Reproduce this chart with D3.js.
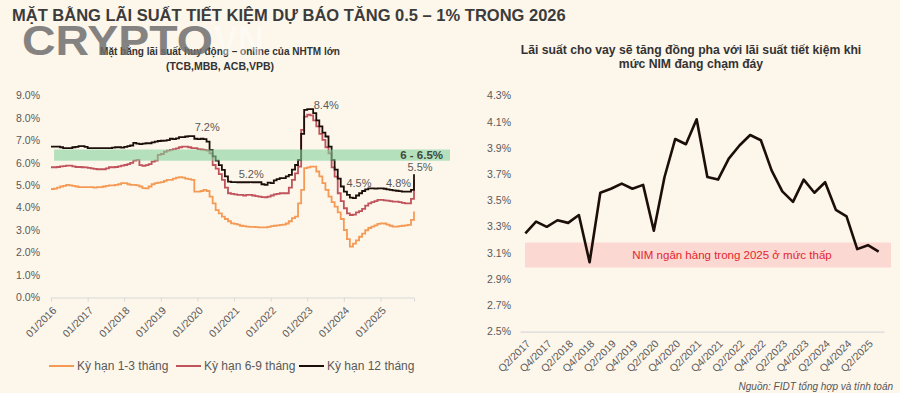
<!DOCTYPE html>
<html>
<head>
<meta charset="utf-8">
<script src="https://cdn.jsdelivr.net/npm/d3@7"></script>
<style>
  body { margin: 0; background: #fdf6eb; }
  svg { display: block; font-family: "Liberation Sans", Arial, sans-serif; }
</style>
</head>
<body>
<div id="chart"></div>
<script>
// ---- left chart data: monthly deposit rates (%), 01/2016 -> 12/2025
var monthStart = "2016-01";
var rate1to3 = [
  4.84, 4.86, 4.90, 4.95, 4.98, 5.02, 5.00, 4.98, 4.95, 4.92, 4.92, 4.92,
  4.92, 4.92, 4.90, 4.92, 4.92, 4.95, 4.98, 5.00, 5.00, 5.02, 5.05, 5.10,
  5.10, 5.05, 5.02, 5.02, 5.00, 4.95, 4.88, 4.87, 4.95, 5.05, 5.10, 5.12,
  5.15, 5.20, 5.25, 5.25, 5.30, 5.35, 5.37, 5.35, 5.30, 5.28, 5.25, 4.72,
  4.72, 4.75, 4.80, 4.75, 4.50, 4.20, 3.90, 3.75, 3.61, 3.50, 3.40, 3.31,
  3.28, 3.25, 3.20, 3.18, 3.16, 3.15, 3.15, 3.14, 3.13, 3.13, 3.13, 3.15,
  3.18, 3.20, 3.22, 3.24, 3.25, 3.30, 3.40, 3.54, 3.61, 4.20, 4.80, 5.77,
  5.80, 5.84, 5.84, 5.62, 5.40, 5.10, 4.80, 4.50, 4.25, 4.05, 3.80, 3.50,
  3.01, 2.60, 2.27, 2.40, 2.55, 2.71, 2.85, 3.00, 3.10, 3.16, 3.22, 3.28,
  3.31, 3.30, 3.25, 3.20, 3.16, 3.16, 3.18, 3.20, 3.22, 3.24, 3.46, 3.83
];
var rate6to9 = [
  5.81, 5.81, 5.82, 5.85, 5.86, 5.88, 5.88, 5.85, 5.82, 5.82, 5.81, 5.80,
  5.78, 5.76, 5.74, 5.72, 5.72, 5.72, 5.76, 5.81, 5.81, 5.82, 5.85, 5.88,
  5.91, 5.95, 6.00, 6.10, 6.14, 5.90, 5.87, 5.90, 5.95, 6.06, 6.10, 6.36,
  6.40, 6.50, 6.55, 6.58, 6.62, 6.65, 6.70, 6.73, 6.73, 6.70, 6.66, 6.66,
  6.62, 6.60, 6.58, 6.55, 6.43, 5.91, 5.75, 5.50, 5.25, 4.90, 4.65, 4.62,
  4.60, 4.58, 4.58, 4.55, 4.58, 4.58, 4.55, 4.52, 4.50, 4.48, 4.47, 4.50,
  4.55, 4.60, 4.62, 4.65, 4.65, 4.65, 4.90, 5.25, 5.54, 5.84, 7.48, 8.07,
  8.15, 8.12, 7.90, 7.63, 7.30, 7.03, 6.70, 6.43, 5.80, 5.39, 4.65, 4.30,
  3.98, 3.75, 3.68, 3.70, 3.80, 3.85, 3.95, 4.10, 4.20, 4.25, 4.30, 4.35,
  4.35, 4.33, 4.32, 4.30, 4.28, 4.28, 4.25, 4.22, 4.20, 4.20, 4.40, 5.25
];
var rate12 = [
  6.73, 6.73, 6.73, 6.70, 6.66, 6.66, 6.66, 6.70, 6.72, 6.75, 6.75, 6.72,
  6.66, 6.66, 6.66, 6.66, 6.66, 6.66, 6.66, 6.66, 6.68, 6.70, 6.70, 6.68,
  6.72, 6.75, 6.78, 6.90, 6.86, 6.84, 6.86, 6.88, 6.88, 6.92, 6.95, 6.98,
  6.99, 7.00, 7.02, 7.08, 7.06, 7.10, 7.15, 7.15, 7.18, 7.20, 7.20, 7.08,
  7.06, 7.08, 7.06, 6.95, 6.58, 6.29, 6.10, 5.90, 5.69, 5.40, 5.17, 5.15,
  5.15, 5.14, 5.14, 5.14, 5.14, 5.15, 5.14, 5.14, 5.14, 5.05, 5.02, 5.12,
  5.10, 5.22, 5.28, 5.32, 5.32, 5.40, 5.47, 5.70, 5.91, 6.14, 7.30, 8.37,
  8.40, 8.40, 8.22, 7.90, 7.63, 7.35, 7.18, 6.73, 6.14, 5.70, 5.30, 4.95,
  4.72, 4.58, 4.45, 4.43, 4.55, 4.65, 4.75, 4.82, 4.87, 4.87, 4.86, 4.87,
  4.87, 4.85, 4.82, 4.80, 4.78, 4.76, 4.74, 4.72, 4.72, 4.72, 4.80, 5.50
];
var seriesNames = ["Kỳ hạn 1-3 tháng", "Kỳ hạn 6-9 tháng", "Kỳ hạn 12 tháng"];
var leftTicks = [0, 1, 2, 3, 4, 5, 6, 7, 8, 9];
var targetBand = [6.1, 6.6];
var targetLabel = "6 - 6.5%";
var peakDates = ["2019-10", "2021-06", "2023-01", "2024-04", "2025-04", "2025-12"];
var peakValues = [7.2, 5.2, 8.4, 4.5, 4.8, 5.5];
var peakLabels = ["7.2%", "5.2%", "8.4%", "4.5%", "4.8%", "5.5%"];

// ---- right chart data: quarterly NIM (%)
var quarters = [
  "Q2/2017", "Q3/2017", "Q4/2017", "Q1/2018", "Q2/2018", "Q3/2018", "Q4/2018",
  "Q1/2019", "Q2/2019", "Q3/2019", "Q4/2019", "Q1/2020", "Q2/2020", "Q3/2020",
  "Q4/2020", "Q1/2021", "Q2/2021", "Q3/2021", "Q4/2021", "Q1/2022", "Q2/2022",
  "Q3/2022", "Q4/2022", "Q1/2023", "Q2/2023", "Q3/2023", "Q4/2023", "Q1/2024",
  "Q2/2024", "Q3/2024", "Q4/2024", "Q1/2025", "Q2/2025", "Q3/2025"
];
var nim = [
  3.25, 3.34, 3.30, 3.35, 3.33, 3.39, 3.03, 3.56, 3.59, 3.63, 3.59, 3.62,
  3.27, 3.68, 3.97, 3.93, 4.12, 3.68, 3.66, 3.82, 3.92, 4.00, 3.96, 3.73,
  3.57, 3.49, 3.66, 3.56, 3.64, 3.43, 3.38, 3.13, 3.16, 3.11
];
var rightTicks = [2.5, 2.7, 2.9, 3.1, 3.3, 3.5, 3.7, 3.9, 4.1, 4.3];
var nimBand = [2.99, 3.18];
var nimLabel = "NIM ngân hàng trong 2025 ở mức thấp";

var W = 900, H = 393;
var textGray = "#595959";
var colors = ["#f59a55", "#c0535b", "#1c0f0a"];

var svg = d3.select("#chart").append("svg")
  .attr("width", W).attr("height", H);

svg.append("rect").attr("width", W).attr("height", H).attr("fill", "#fdf6eb");

// main title
svg.append("text")
  .attr("x", 12).attr("y", 21)
  .attr("fill", "#3b3b3b")
  .style("font-size", "16.5px").style("font-weight", "bold")
  .text("MẶT BẰNG LÃI SUẤT TIẾT KIỆM DỰ BÁO TĂNG 0.5 – 1% TRONG 2026");

// chart subtitles
var sub = svg.append("g")
  .attr("fill", "#333")
  .style("font-weight", "bold")
  .attr("text-anchor", "middle");
sub.append("text").attr("x", 220).attr("y", 55)
  .style("font-size", "10px")
  .text("Mặt bằng lãi suất huy động – online của NHTM lớn");
sub.append("text").attr("x", 220).attr("y", 70)
  .style("font-size", "10.5px")
  .text("(TCB,MBB, ACB,VPB)");
sub.append("text").attr("x", 691).attr("y", 54)
  .style("font-size", "12.2px")
  .text("Lãi suất cho vay sẽ tăng đồng pha với lãi suất tiết kiệm khi");
sub.append("text").attr("x", 691).attr("y", 68)
  .style("font-size", "12.2px")
  .text("mức NIM đang chạm đáy");

// ================= LEFT CHART =================
var parseMonth = d3.timeParse("%Y-%m");
var start = parseMonth(monthStart);
var dates = rate12.map((d, i) => d3.timeMonth.offset(start, i));

var x = d3.scaleTime()
  .domain([dates[0], dates[dates.length - 1]])
  .range([51, 414]);
var y = d3.scaleLinear().domain([0, 9]).range([297.5, 95.7]);

var left = svg.append("g");

// y labels
left.selectAll(".ytick")
  .data(leftTicks).enter().append("text")
  .attr("x", 40).attr("y", d => y(d)).attr("dy", "0.35em")
  .attr("text-anchor", "end").attr("fill", textGray)
  .style("font-size", "10.5px")
  .text(d => d.toFixed(1) + "%");

// x axis
var xAxis = left.append("g")
  .attr("transform", `translate(0,${y(0)})`)
  .call(d3.axisBottom(x).ticks(d3.timeYear.every(1)).tickFormat(d3.timeFormat("%m/%Y")).tickSizeOuter(0).tickSize(4));
xAxis.select(".domain").attr("stroke", "#d9d9d9");
xAxis.selectAll(".tick line").attr("stroke", "#d9d9d9");
xAxis.selectAll(".tick text")
  .attr("fill", textGray).style("font-size", "10.5px")
  .style("font-family", "Liberation Sans, Arial, sans-serif")
  .attr("text-anchor", "end")
  .attr("x", 0).attr("y", 0).attr("dy", "0.35em")
  .attr("transform", "translate(3,11) rotate(-45)");

// lines
var allSeries = [rate1to3, rate6to9, rate12];
var line = d3.line()
  .x((d, i) => x(dates[i]))
  .y(d => y(d))
  .curve(d3.curveStepAfter);

left.selectAll(".rate")
  .data(allSeries).enter().append("path")
  .attr("fill", "none")
  .attr("stroke", (d, i) => colors[i])
  .attr("stroke-width", 1.8)
  .attr("d", line);

// green target band drawn on top, semi transparent
left.append("rect")
  .attr("x", x(dates[1]))
  .attr("y", y(targetBand[1]))
  .attr("width", 450 - x(dates[1]))
  .attr("height", y(targetBand[0]) - y(targetBand[1]))
  .attr("fill", "#84d29d")
  .attr("opacity", 0.6);
left.append("text")
  .attr("x", 443).attr("y", 158.5)
  .attr("text-anchor", "end")
  .attr("fill", "#404840")
  .style("font-size", "11.5px").style("font-weight", "bold")
  .text(targetLabel);

// peak labels
var peakOffsets = [[19, -5], [2, -3], [19, 0], [6, -10], [9, -3], [6, -3]];
left.selectAll(".peak")
  .data(peakLabels).enter().append("text")
  .attr("x", (d, i) => x(parseMonth(peakDates[i])) + peakOffsets[i][0])
  .attr("y", (d, i) => y(peakValues[i]) + peakOffsets[i][1])
  .attr("text-anchor", "middle").attr("fill", textGray)
  .style("font-size", "11px")
  .text(d => d);

// legend
var legendX = [49, 176, 299];
var legend = left.selectAll(".leg")
  .data(seriesNames).enter().append("g")
  .attr("transform", (d, i) => `translate(${legendX[i]},366)`);
legend.append("line")
  .attr("x1", 0).attr("x2", 25)
  .attr("stroke", (d, i) => colors[i]).attr("stroke-width", 2);
legend.append("text")
  .attr("x", 28).attr("dy", "0.35em")
  .attr("fill", textGray).style("font-size", "12px")
  .text(d => d);

// ================= RIGHT CHART =================
var xq = d3.scaleBand().domain(quarters).range([520, 884]);
var yr = d3.scaleLinear().domain([2.5, 4.3]).range([331.7, 95.7]);
var right = svg.append("g");

right.selectAll(".ytick")
  .data(rightTicks).enter().append("text")
  .attr("x", 511).attr("y", d => yr(d)).attr("dy", "0.35em")
  .attr("text-anchor", "end").attr("fill", textGray)
  .style("font-size", "10.5px")
  .text(d => d.toFixed(1) + "%");

var qAxis = right.append("g")
  .attr("transform", `translate(0,${yr(2.5)})`)
  .call(d3.axisBottom(xq).tickValues(quarters.filter((q, i) => i % 2 == 0)).tickSize(0));
qAxis.select(".domain").attr("stroke", "#d9d9d9").attr("stroke-width", 1.2);
qAxis.selectAll(".tick text")
  .attr("fill", textGray).style("font-size", "10.5px")
  .style("font-family", "Liberation Sans, Arial, sans-serif")
  .attr("text-anchor", "end")
  .attr("x", 0).attr("y", 0).attr("dy", "0.35em")
  .attr("transform", "translate(3,10) rotate(-45)");

// NIM low band
right.append("rect")
  .attr("x", xq(quarters[0]) + 5)
  .attr("y", yr(nimBand[1]))
  .attr("width", 891 - xq(quarters[0]) - 5)
  .attr("height", yr(nimBand[0]) - yr(nimBand[1]))
  .attr("fill", "#fbd8d2");
right.append("text")
  .attr("x", 732).attr("y", (yr(nimBand[0]) + yr(nimBand[1])) / 2)
  .attr("dy", "0.35em").attr("text-anchor", "middle")
  .attr("fill", "#e3262e").style("font-size", "11.5px")
  .text(nimLabel);

right.append("path")
  .datum(nim)
  .attr("fill", "none")
  .attr("stroke", "#1c0f0a")
  .attr("stroke-width", 2.6)
  .attr("stroke-linejoin", "round")
  .attr("d", d3.line()
    .x((d, i) => xq(quarters[i]) + xq.bandwidth() / 2)
    .y(d => yr(d)));

// source
svg.append("text")
  .attr("x", 893).attr("y", 390)
  .attr("text-anchor", "end").attr("fill", "#555")
  .style("font-size", "10px").style("font-style", "italic")
  .text("Nguồn: FIDT tổng hợp và tính toán");

// watermark
svg.append("text")
  .attr("x", 22).attr("y", 55)
  .attr("fill", "#6f6f6f").attr("opacity", 0.85)
  .attr("textLength", 191).attr("lengthAdjust", "spacingAndGlyphs")
  .style("font-size", "42px").style("font-weight", "bold")
  .text("CRYPTO");
svg.append("text")
  .attr("x", 214).attr("y", 55)
  .attr("fill", "#ffffff").attr("opacity", 0.4)
  .attr("textLength", 50).attr("lengthAdjust", "spacingAndGlyphs")
  .style("font-size", "42px").style("font-weight", "bold")
  .text("VN");
</script>
</body>
</html>
